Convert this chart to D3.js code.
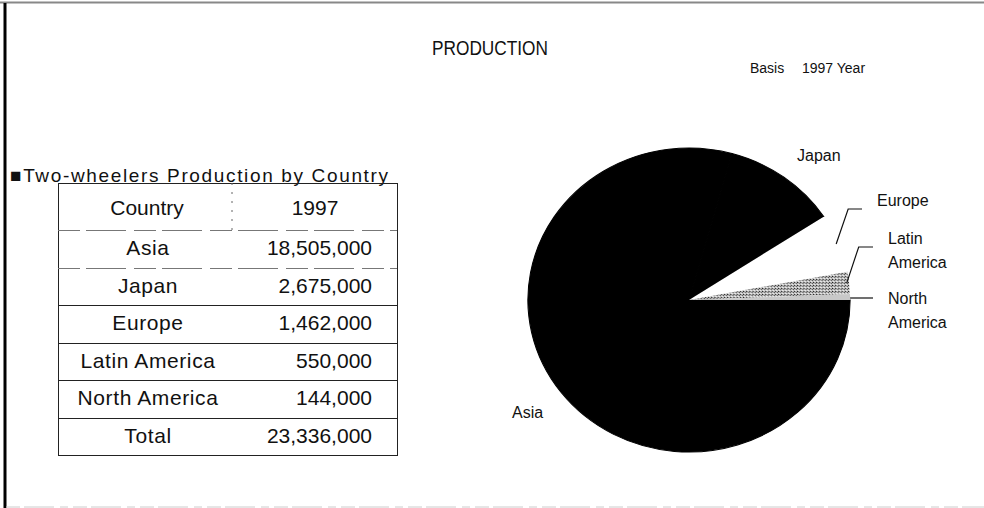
<!DOCTYPE html>
<html>
<head>
<meta charset="utf-8">
<script src="https://cdn.jsdelivr.net/npm/d3@7"></script>
<style>
  html, body { margin: 0; padding: 0; background: #fff; }
  svg { display: block; }
  text { font-family: "Liberation Sans", Arial, sans-serif; fill: #111; }
</style>
</head>
<body>
<script>
// Data
var countries = ["Asia", "Japan", "Europe", "Latin America", "North America"];
var production = [18505000, 2675000, 1462000, 550000, 144000];
var yearLabel = "1997";
var totalLabel = "Total";

var width = 984, height = 508;

var svg = d3.select("body").append("svg")
  .attr("width", width)
  .attr("height", height);

// page frame (scanned sheet edges)
svg.append("line").attr("x1", 0).attr("x2", width).attr("y1", 2.5).attr("y2", 2.5)
  .attr("stroke", "#888").attr("stroke-width", 2);
svg.append("line").attr("x1", 5).attr("x2", 5).attr("y1", 3).attr("y2", height)
  .attr("stroke", "#000").attr("stroke-width", 3);
svg.append("line").attr("x1", 6).attr("x2", width).attr("y1", 507).attr("y2", 507)
  .attr("stroke", "#ccc").attr("stroke-width", 1).attr("stroke-dasharray", "14 4 30 6 8 5");

// titles
svg.append("text")
  .attr("x", 432).attr("y", 55)
  .attr("textLength", 116).attr("lengthAdjust", "spacingAndGlyphs")
  .style("font-size", "21px")
  .text("PRODUCTION");

svg.append("text")
  .attr("x", 750).attr("y", 73)
  .style("font-size", "14px")
  .text("Basis");
svg.append("text")
  .attr("x", 802).attr("y", 73)
  .style("font-size", "14px")
  .text(yearLabel + " Year");

svg.append("text")
  .attr("x", 10).attr("y", 182)
  .attr("textLength", 378).attr("lengthAdjust", "spacing")
  .style("font-size", "19px")
  .text("\u25A0Two-wheelers Production by Country");

// ---------- table ----------
var fmt = d3.format(",");
var tableRows = countries.map(function (c, i) { return { name: c, value: production[i] }; });
tableRows.push({ name: totalLabel, value: d3.sum(production) });

var tLeft = 58, tRight = 397, tTop = 183, headBottom = 230, tBottom = 455, colSplit = 232;

var yRow = d3.scaleBand()
  .domain(tableRows.map(function (d) { return d.name; }))
  .range([headBottom, tBottom]);

var table = svg.append("g").attr("class", "table");

table.append("rect")
  .attr("x", tLeft + 0.5).attr("y", tTop + 0.5)
  .attr("width", tRight - tLeft).attr("height", tBottom - tTop)
  .attr("fill", "none").attr("stroke", "#222").attr("stroke-width", 1);

// header divider (dotted in the scan)
table.append("line")
  .attr("x1", colSplit).attr("x2", colSplit).attr("y1", tTop).attr("y2", headBottom)
  .attr("stroke", "#666").attr("stroke-dasharray", "2 7");

// row lines
table.selectAll(".rowline")
  .data(tableRows)
  .enter()
  .append("line")
  .attr("class", "rowline")
  .attr("x1", tLeft).attr("x2", tRight)
  .attr("y1", function (d) { return Math.round(yRow(d.name)) + 0.5; })
  .attr("y2", function (d) { return Math.round(yRow(d.name)) + 0.5; })
  .attr("stroke", function (d, i) { return i < 2 ? "#777" : "#222"; })
  .attr("stroke-dasharray", function (d, i) { return i < 2 ? "22 6 40 8" : null; });

table.append("text")
  .attr("x", 147).attr("y", (tTop + headBottom) / 2 + 3)
  .attr("text-anchor", "middle").attr("dominant-baseline", "middle")
  .style("font-size", "21px")
  .text("Country");
table.append("text")
  .attr("x", 315).attr("y", (tTop + headBottom) / 2 + 3)
  .attr("text-anchor", "middle").attr("dominant-baseline", "middle")
  .style("font-size", "21px")
  .text(yearLabel);

table.selectAll(".cname")
  .data(tableRows)
  .enter()
  .append("text")
  .attr("class", "cname")
  .attr("x", 148)
  .attr("y", function (d) { return yRow(d.name) + yRow.bandwidth() / 2 + 1; })
  .attr("text-anchor", "middle").attr("dominant-baseline", "middle")
  .style("font-size", "21px").style("letter-spacing", "0.6px")
  .text(function (d) { return d.name; });

table.selectAll(".cval")
  .data(tableRows)
  .enter()
  .append("text")
  .attr("class", "cval")
  .attr("x", 372)
  .attr("y", function (d) { return yRow(d.name) + yRow.bandwidth() / 2 + 1; })
  .attr("text-anchor", "end").attr("dominant-baseline", "middle")
  .style("font-size", "21px")
  .text(function (d) { return fmt(d.value); });

// ---------- pie ----------
var cx = 689, cy = 300, radius = 152, sx = 1.06;

var defs = svg.append("defs");
var pat = defs.append("pattern")
  .attr("id", "dither")
  .attr("width", 3).attr("height", 3)
  .attr("patternUnits", "userSpaceOnUse");
pat.append("rect").attr("width", 3).attr("height", 3).attr("fill", "#bbb");
pat.append("rect").attr("width", 1).attr("height", 1).attr("fill", "#222");
pat.append("rect").attr("x", 2).attr("y", 1).attr("width", 1).attr("height", 1).attr("fill", "#555");
pat.append("rect").attr("x", 1).attr("y", 2).attr("width", 1).attr("height", 1).attr("fill", "#fff");

var fill = d3.scaleOrdinal()
  .domain(countries)
  .range(["#000", "#000", "#fff", "url(#dither)", "#c8c8c8"]);

var pie = d3.pie()
  .sort(null)
  .value(function (d) { return d.value; })
  .startAngle(Math.PI / 2)
  .endAngle(Math.PI / 2 + 2 * Math.PI);

var arcs = pie(tableRows.slice(0, countries.length));
var arc = d3.arc().innerRadius(0).outerRadius(radius);

var pieG = svg.append("g")
  .attr("transform", "translate(" + cx + "," + cy + ") scale(" + sx + ",1)");

pieG.selectAll("path")
  .data(arcs)
  .enter()
  .append("path")
  .attr("d", arc)
  .attr("fill", function (d) { return fill(d.data.name); })
  .attr("stroke", function (d) { return fill(d.data.name) === "#000" ? "#000" : "none"; })
  .attr("stroke-width", 1);

// labels
var labelLayout = {
  "Asia": { x: 512, y: 418, lines: ["Asia"] },
  "Japan": { x: 797, y: 161, lines: ["Japan"] },
  "Europe": { x: 877, y: 206, lines: ["Europe"], elbow: true },
  "Latin America": { x: 888, y: 244, lines: ["Latin", "America"], elbow: true },
  "North America": { x: 888, y: 304, lines: ["North", "America"], elbow: false, leader: true }
};

function edgePoint(d, k) {
  var a = (d.startAngle + d.endAngle) / 2;
  return [cx + Math.sin(a) * radius * k * sx, cy - Math.cos(a) * radius * k];
}

var labelG = svg.append("g");
arcs.forEach(function (d) {
  var L = labelLayout[d.data.name];
  var t = labelG.append("text")
    .attr("x", L.x).attr("y", L.y)
    .style("font-size", "16px");
  L.lines.forEach(function (s, i) {
    t.append("tspan").attr("x", L.x).attr("dy", i === 0 ? 0 : 24).text(s);
  });
  if (L.elbow) {
    var p = edgePoint(d, 0.985);
    var ey = L.y + 3;
    labelG.append("polyline")
      .attr("points", [p, [p[0] + 12, ey], [L.x - 15, ey]].map(function (q) { return q.join(","); }).join(" "))
      .attr("fill", "none").attr("stroke", "#111").attr("stroke-width", 1.2);
  } else if (L.leader) {
    var q = edgePoint(d, 1.0);
    labelG.append("line")
      .attr("x1", q[0]).attr("x2", L.x - 15)
      .attr("y1", L.y - 6).attr("y2", L.y - 6)
      .attr("stroke", "#111").attr("stroke-width", 1.2);
  }
});
</script>
</body>
</html>
